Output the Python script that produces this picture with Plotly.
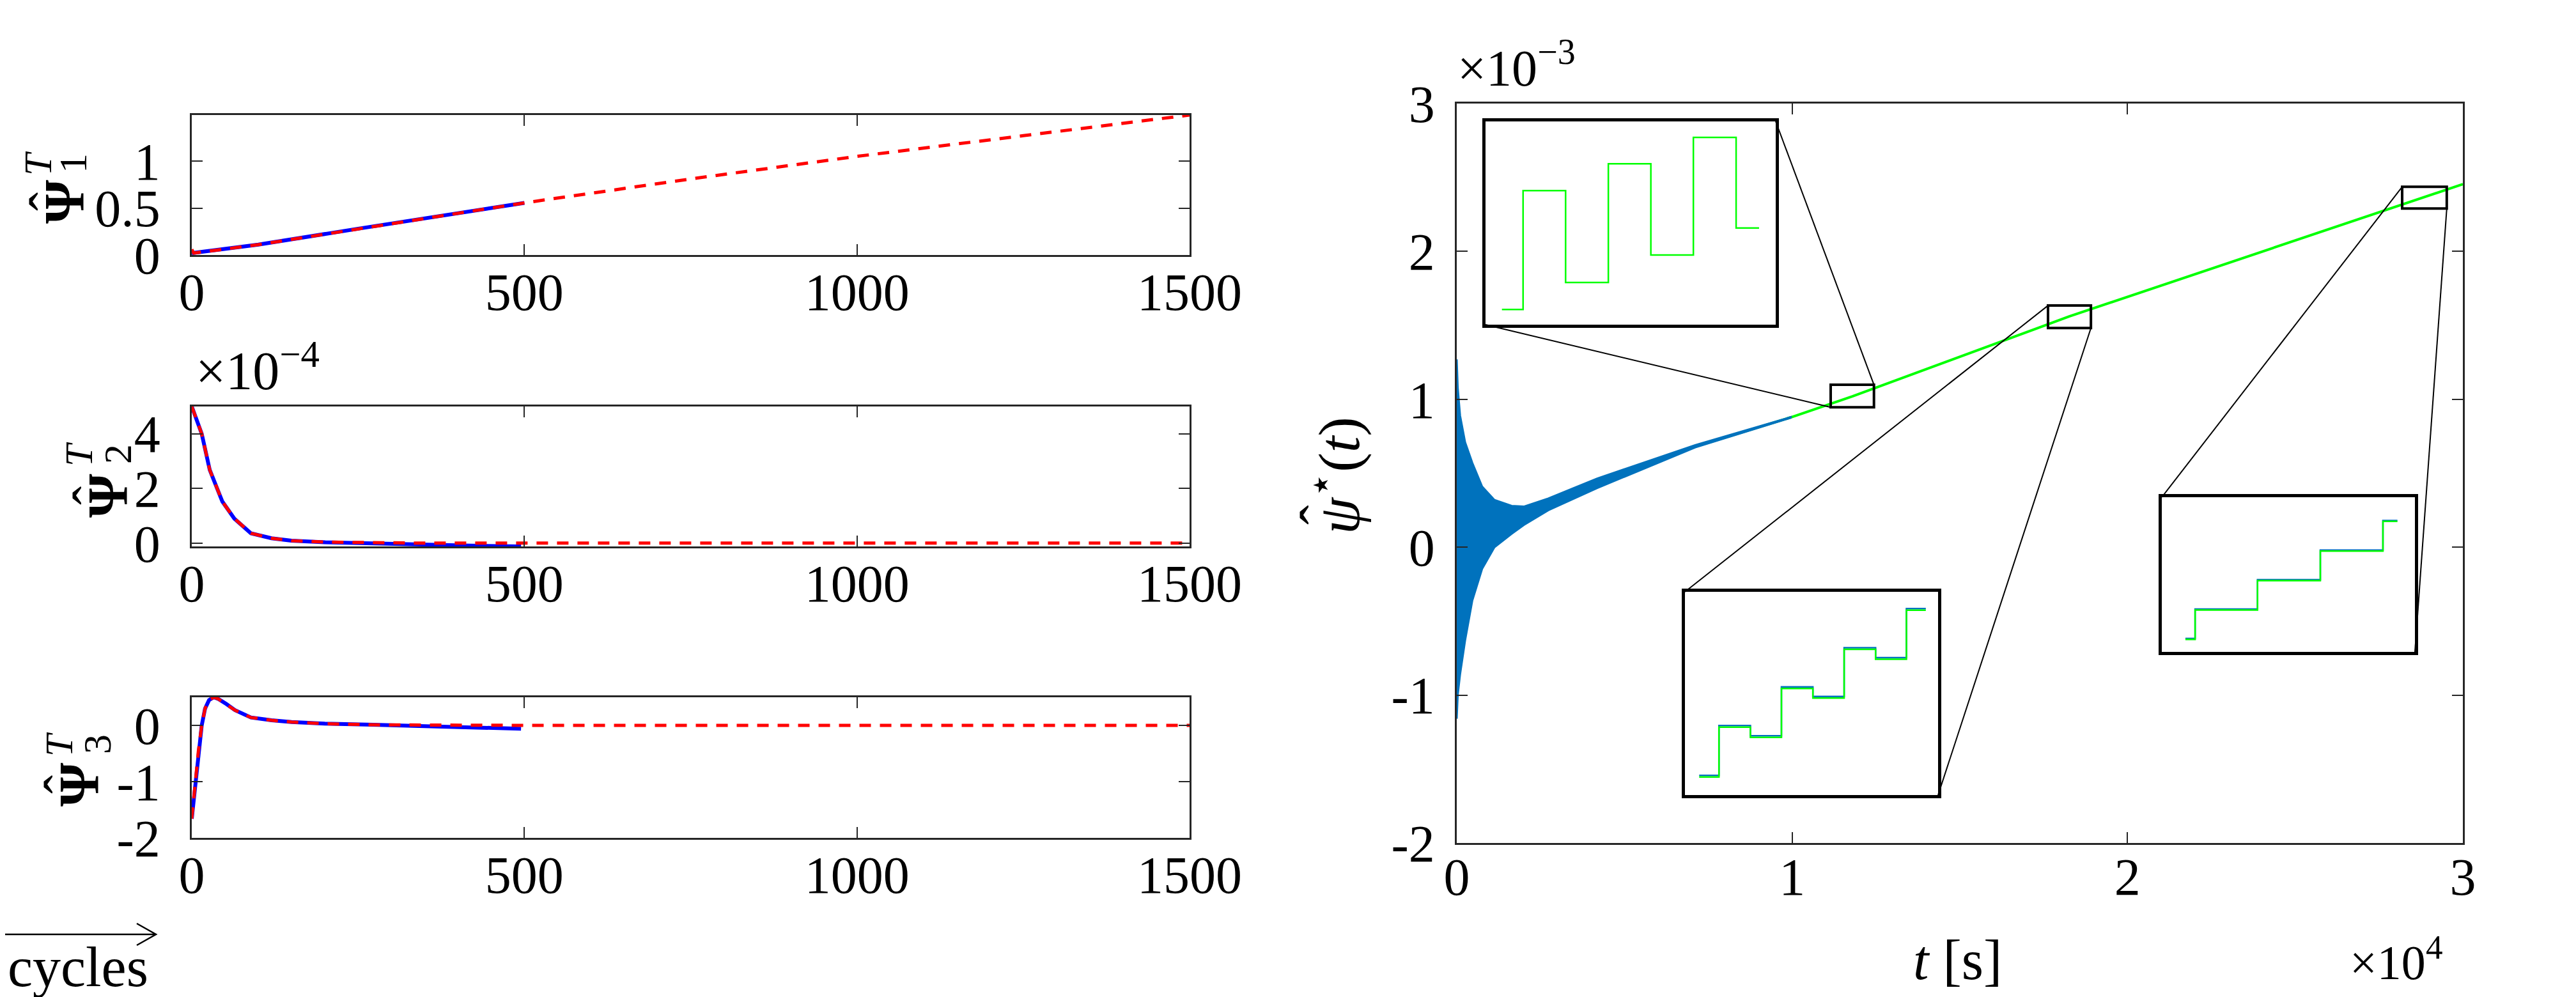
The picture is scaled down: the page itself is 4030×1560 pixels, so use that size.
import plotly.graph_objects as go

W, H = 4030, 1560
FONT = "Liberation Serif"

# ---------------- left column: identified parameters vs. cycles ----------------
cyc_psi1 = [0, 100, 250, 400, 500]
psi1_est = [0.02, 0.11, 0.28, 0.45, 0.555]
cyc_psi1_ext = [0, 3, 100, 250, 500, 750, 1000, 1250, 1500]
psi1_ext = [0.06, 0.02, 0.11, 0.28, 0.555, 0.81, 1.05, 1.27, 1.49]

# psi2 in units of 1e-4
cyc_psi2 = [0, 15, 27, 46, 64, 89, 120, 150, 200, 273, 350, 420, 495]
psi2_est = [5.0, 4.0, 2.68, 1.52, 0.9, 0.36, 0.18, 0.09, 0.03, -0.02, -0.06, -0.09, -0.12]
cyc_psi2_ext = [0, 15, 27, 46, 64, 89, 120, 150, 200, 273, 350, 500, 1000, 1500]
psi2_ext = [5.0, 4.0, 2.68, 1.52, 0.9, 0.36, 0.18, 0.09, 0.04, 0.01, 0.0, 0.0, 0.0, 0.0]

cyc_psi3 = [0, 3, 6, 10, 15, 20, 26, 33, 40, 52, 65, 89, 120, 150, 200, 273, 350, 420, 495]
psi3_est = [-1.66, -1.3, -0.95, -0.45, 0.0, 0.3, 0.45, 0.5, 0.47, 0.38, 0.27, 0.14, 0.09,
            0.06, 0.03, 0.01, -0.02, -0.04, -0.06]
cyc_psi3_ext = [0, 3, 6, 10, 15, 20, 26, 33, 40, 52, 65, 89, 120, 150, 200, 273, 500, 1000, 1500]
psi3_ext = [-1.66, -1.3, -0.95, -0.45, 0.0, 0.3, 0.45, 0.5, 0.47, 0.38, 0.27, 0.14, 0.09,
            0.06, 0.03, 0.01, 0.0, 0.0, 0.0]

# ---------------- right: psi_hat*(t), units of 1e-3 ----------------
t_upper = [0, 30, 100, 250, 465, 757, 1124, 1636, 2000, 2730, 4190, 7110, 9960]
env_upper = [1.27, 1.08, 0.89, 0.71, 0.57, 0.41, 0.32, 0.28, 0.275, 0.33, 0.465, 0.69, 0.88]
t_lower = [0, 30, 100, 250, 465, 757, 1124, 1636, 2000, 2730, 4190, 7110, 9960]
env_lower = [-1.16, -1.0, -0.86, -0.63, -0.36, -0.146, 0.0, 0.09, 0.15, 0.25, 0.40, 0.675, 0.875]

t_green = [0, 2000, 4190, 7110, 9960, 11800, 18260, 28860, 30000]
psi_green = [0.05, 0.24, 0.43, 0.68, 0.878, 1.02, 1.56, 2.366, 2.455]

# zoom windows [t0, t1, y0, y1]
zoom_a = [11150, 12440, 0.946, 1.098]
zoom_b = [17630, 18910, 1.482, 1.634]
zoom_c = [28190, 29520, 2.290, 2.437]

t_in_a = [11223, 11317, 11506, 11696, 11885, 12074, 12264, 12366]
green_in_a = [0.9574, 1.0462, 0.9776, 1.0663, 0.9981, 1.0861, 1.0183, 1.0183]

t_in_b = [17702, 17802, 17961, 18118, 18277, 18435, 18594, 18750, 18848]
green_in_b = [1.4955, 1.5328, 1.5251, 1.5617, 1.5545, 1.5910, 1.5836, 1.6202, 1.6202]
blue_in_b = [1.4967, 1.5340, 1.5263, 1.5629, 1.5557, 1.5922, 1.5848, 1.6214, 1.6214]

t_in_c = [28314, 28365, 28693, 29023, 29352, 29428]
green_in_c = [2.3018, 2.3298, 2.3577, 2.3858, 2.4140, 2.4140]
blue_in_c = [2.3027, 2.3307, 2.3586, 2.3867, 2.4149, 2.4149]


def xd(a, b):
    return [a / W, b / W]


def yd(top, bot):
    return [1 - bot / H, 1 - top / H]


LEFT_X = xd(292, 1853)
RIGHT_X = xd(2271, 3845)
TOP_Y = yd(172, 391)
MID_Y = yd(628, 847)
BOT_Y = yd(1083, 1303)
MAIN_Y = yd(154, 1311)
INSET_A = (xd(2316, 2770), yd(182, 500))
INSET_B = (xd(2628, 3024), yd(918, 1236))
INSET_C = (xd(3374, 3770), yd(770, 1012))
T_RANGE = [0, 30000]
PSI_RANGE = [-2, 3]

BLUE_L, RED_L = "#0000FF", "#FF0000"
MBLUE, GREEN = "#0072BD", "#00FF00"

fig = go.Figure()


def left_pair(x1, y1, x2, y2, ax):
    fig.add_trace(go.Scatter(x=x1, y=y1, mode="lines", line=dict(color=BLUE_L, width=6),
                             xaxis="x" + ax, yaxis="y" + ax, showlegend=False))
    fig.add_trace(go.Scatter(x=x2, y=y2, mode="lines",
                             line=dict(color=RED_L, width=5, dash="18px,14px"),
                             xaxis="x" + ax, yaxis="y" + ax, showlegend=False))


left_pair(cyc_psi1, psi1_est, cyc_psi1_ext, psi1_ext, "")
left_pair(cyc_psi2, psi2_est, cyc_psi2_ext, psi2_ext, "2")
left_pair(cyc_psi3, psi3_est, cyc_psi3_ext, psi3_ext, "3")

# main plot
fig.add_trace(go.Scatter(x=t_green, y=psi_green, mode="lines", line=dict(color=GREEN, width=4),
                         xaxis="x4", yaxis="y4", showlegend=False))
fig.add_trace(go.Scatter(x=t_upper + t_lower[::-1], y=env_upper + env_lower[::-1],
                         mode="lines", fill="toself", fillcolor=MBLUE,
                         line=dict(color=MBLUE, width=3), xaxis="x4", yaxis="y4",
                         showlegend=False))

# insets
fig.add_trace(go.Scatter(x=t_in_a, y=green_in_a, mode="lines", line=dict(color=GREEN, width=2.5, shape="hv"),
                         xaxis="x5", yaxis="y5", showlegend=False))
fig.add_trace(go.Scatter(x=t_in_b, y=blue_in_b, mode="lines", line=dict(color=MBLUE, width=2.5, shape="hv"),
                         xaxis="x6", yaxis="y6", showlegend=False))
fig.add_trace(go.Scatter(x=t_in_b, y=green_in_b, mode="lines", line=dict(color=GREEN, width=2.5, shape="hv"),
                         xaxis="x6", yaxis="y6", showlegend=False))
fig.add_trace(go.Scatter(x=t_in_c, y=blue_in_c, mode="lines", line=dict(color=MBLUE, width=2.5, shape="hv"),
                         xaxis="x7", yaxis="y7", showlegend=False))
fig.add_trace(go.Scatter(x=t_in_c, y=green_in_c, mode="lines", line=dict(color=GREEN, width=2.5, shape="hv"),
                         xaxis="x7", yaxis="y7", showlegend=False))

axis_base = dict(showline=True, linecolor="#262626", linewidth=2.5, mirror="ticks",
                 ticks="inside", ticklen=17, tickwidth=2, tickcolor="#262626",
                 showgrid=False, zeroline=False,
                 tickfont=dict(family=FONT, size=82, color="black"))


def xax(domain, anchor, rng, vals, text, standoff=-15):
    return dict(axis_base, domain=domain, anchor=anchor, range=rng, tickvals=vals,
                ticktext=text, ticklabelstandoff=standoff)


def yax(domain, anchor, rng, vals, text, standoff=30):
    return dict(axis_base, domain=domain, anchor=anchor, range=rng, tickvals=vals,
                ticktext=text, ticklabelstandoff=standoff)


cyc_ticks = [0, 500, 1000, 1500]
cyc_text = ["0", "500", "1000", "1500"]


def inset(domain, anchor, rng):
    return dict(domain=domain, anchor=anchor, range=rng, showline=True, mirror=True,
                linecolor="black", linewidth=5, ticks="", showticklabels=False,
                showgrid=False, zeroline=False)


fig.update_layout(
    width=W, height=H, template="none", margin=dict(l=0, r=0, t=0, b=0),
    paper_bgcolor="white", plot_bgcolor="rgba(0,0,0,0)",
    xaxis=xax(LEFT_X, "y", [0, 1500], cyc_ticks, cyc_text),
    yaxis=yax(TOP_Y, "x", [0, 1.49], [0, 0.5, 1], ["0", "0.5", "1"]),
    xaxis2=xax(LEFT_X, "y2", [0, 1500], cyc_ticks, cyc_text),
    yaxis2=yax(MID_Y, "x2", [-0.12, 5.0], [0, 2, 4], ["0", "2", "4"]),
    xaxis3=xax(LEFT_X, "y3", [0, 1500], cyc_ticks, cyc_text),
    yaxis3=yax(BOT_Y, "x3", [-2, 0.5], [-2, -1, 0], ["-2", "-1", "0"]),
    xaxis4=xax(RIGHT_X, "y4", T_RANGE, [0, 10000, 20000, 30000], ["0", "1", "2", "3"], -20),
    yaxis4=yax(MAIN_Y, "x4", PSI_RANGE, [-2, -1, 0, 1, 2, 3], ["-2", "-1", "0", "1", "2", "3"], 15),
    xaxis5=inset(INSET_A[0], "y5", zoom_a[:2]),
    yaxis5=inset(INSET_A[1], "x5", zoom_a[2:]),
    xaxis6=inset(INSET_B[0], "y6", zoom_b[:2]),
    yaxis6=inset(INSET_B[1], "x6", zoom_b[2:]),
    xaxis7=inset(INSET_C[0], "y7", zoom_c[:2]),
    yaxis7=inset(INSET_C[1], "x7", zoom_c[2:]),
)


def main_to_paper(t, v):
    xp = RIGHT_X[0] + (t - T_RANGE[0]) / (T_RANGE[1] - T_RANGE[0]) * (RIGHT_X[1] - RIGHT_X[0])
    yp = MAIN_Y[0] + (v - PSI_RANGE[0]) / (PSI_RANGE[1] - PSI_RANGE[0]) * (MAIN_Y[1] - MAIN_Y[0])
    return xp, yp


shapes = []
for z in (zoom_a, zoom_b, zoom_c):
    shapes.append(dict(type="rect", xref="x4", yref="y4", x0=z[0], x1=z[1], y0=z[2], y1=z[3],
                       line=dict(color="black", width=4)))


def connector(p_inset, p_box):
    return dict(type="line", xref="paper", yref="paper", x0=p_inset[0], y0=p_inset[1],
                x1=p_box[0], y1=p_box[1], line=dict(color="black", width=2))


# inset A: bottom-left and top-right corners
shapes.append(connector((INSET_A[0][0], INSET_A[1][0]), main_to_paper(zoom_a[0], zoom_a[2])))
shapes.append(connector((INSET_A[0][1], INSET_A[1][1]), main_to_paper(zoom_a[1], zoom_a[3])))
# insets B, C: top-left and bottom-right corners
for ins, z in ((INSET_B, zoom_b), (INSET_C, zoom_c)):
    shapes.append(connector((ins[0][0], ins[1][1]), main_to_paper(z[0], z[3])))
    shapes.append(connector((ins[0][1], ins[1][0]), main_to_paper(z[1], z[2])))

# "cycles" arrow
ya = 1 - 1454 / H
xa = 236 / W
shapes.append(dict(type="path", xref="paper", yref="paper",
                   path=f"M 0,{ya} L {xa},{ya} M {xa - 30 / W},{ya + 17 / H} L {xa},{ya} "
                        f"L {xa - 30 / W},{ya - 17 / H}",
                   line=dict(color="black", width=2.5)))
fig.update_layout(shapes=shapes)


def note(text, x, y, size, xanchor="center", yanchor="middle", angle=0):
    fig.add_annotation(text=text, x=x / W, y=1 - y / H, xref="paper", yref="paper",
                       showarrow=False, xanchor=xanchor, yanchor=yanchor, textangle=angle,
                       font=dict(family=FONT, size=size, color="black"))


# rotated y labels of the left column, built glyph by glyph so that
# the superscript T sits above the subscript index as in LaTeX
for idx, (px, py, sy, tx, ix) in enumerate([(93, 308, 248, 51, 106),
                                             (160, 768, 703, 115, 176),
                                             (115, 1220, 1157, 84, 144)], start=1):
    note("<b>Ψ</b>", px, py, 88, angle=-90)
    note("ˆ", px - 22, py, 88, angle=-90)
    note("<i>T</i>", tx, sy, 62, angle=-90)
    note(str(idx), ix, sy, 62, angle=-90)

note("×10<sup>−4</sup>", 296, 566, 84, xanchor="left")
note("×10<sup>−3</sup>", 2270, 92, 80, xanchor="left")
note("×10<sup>4</sup>", 3666, 1492, 76, xanchor="left")
note("cycles", 2, 1505, 88, xanchor="left")
note("<i>t</i> [s]", 3054, 1494, 88)
note("<i>ψ</i><sup>⋆</sup>(<i>t</i>)", 2080, 736, 92, angle=-90)
note("ˆ", 2058, 798, 92, angle=-90)

fig.write_html("out.html")
